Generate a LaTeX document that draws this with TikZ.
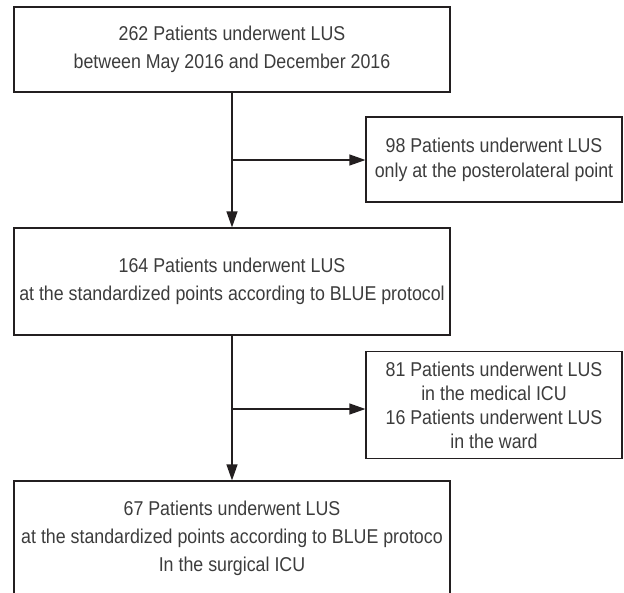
\documentclass[tikz,border=0pt]{standalone}
\usepackage{fontspec}
\setmainfont{Liberation Sans}[FakeStretch=0.89]
\usetikzlibrary{arrows.meta}
\definecolor{linec}{HTML}{231F20}
\definecolor{textc}{HTML}{3C3C3C}
\tikzset{
  box/.style={draw=linec, line width=1.2pt, rectangle, inner sep=0pt, align=center, text=textc},
  bigtext/.style={font=\fontsize{20}{28}\selectfont},
  smalltext/.style={font=\fontsize{20}{25}\selectfont},
  arr/.style={draw=linec, line width=1.2pt, -{Triangle[length=16pt,width=11pt]}},
  plain/.style={draw=linec, line width=1.2pt}
}
\begin{document}
\begin{tikzpicture}[x=1pt,y=-1pt]
\useasboundingbox (0,0) rectangle (624,592);
\clip (0,0) rectangle (624,592);
\node[box,bigtext,minimum width=436pt,minimum height=85pt] (b1) at (232,49.5) {262 Patients underwent LUS\\between May 2016 and December 2016};
\node[box,smalltext,minimum width=256pt,minimum height=85pt] (b98) at (494,159.5) {98 Patients underwent LUS\\only at the posterolateral point};
\node[box,bigtext,minimum width=436pt,minimum height=107pt] (b2) at (232,281.5) {164 Patients underwent LUS\\at the standardized points according to BLUE protocol};
\node[box,font=\fontsize{20}{24}\selectfont,minimum width=256pt,minimum height=107pt] (b81) at (494,405) {81 Patients underwent LUS\\in the medical ICU\\16 Patients underwent LUS\\in the ward};
\node[box,bigtext,minimum width=436pt,minimum height=114pt] (b3) at (232,538) {67 Patients underwent LUS\\at the standardized points according to BLUE protoco\\In the surgical ICU};
\coordinate (j1) at (232,160);
\coordinate (j2) at (232,409);
\draw[arr] (b1.south) -- (b2.north);
\draw[arr] (j1) -- (j1 -| b98.west);
\draw[arr] (b2.south) -- (b3.north);
\draw[arr] (j2) -- (j2 -| b81.west);
\end{tikzpicture}
\end{document}
